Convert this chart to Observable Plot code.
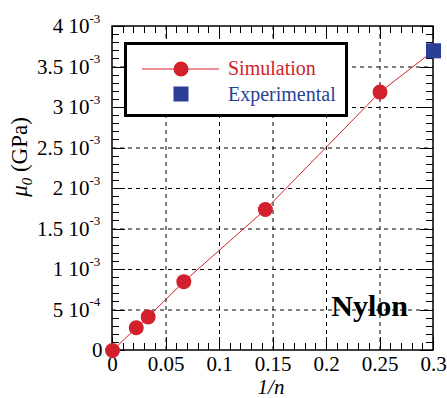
<!DOCTYPE html>
<html>
<head>
<meta charset="utf-8">
<script src="https://cdn.jsdelivr.net/npm/d3@7"></script>
<script src="https://cdn.jsdelivr.net/npm/@observablehq/plot@0.6"></script>
<style>
  body { margin: 0; background: #fff; }
  #chart svg { display: block; }
</style>
</head>
<body>
<div id="chart"></div>
<script>
// Shear modulus mu0 of nylon versus 1/n: simulation series and one experimental value
const invN = [0, 1 / 45, 1 / 30, 1 / 15, 1 / 7, 1 / 4, 0.3];
const mu0Sim = [0, 2.8e-4, 4.15e-4, 8.5e-4, 1.74e-3, 3.19e-3, 3.7e-3];
const invNExp = [0.3];
const mu0Exp = [3.7e-3];

// Axis ticks and their labels
const xMajor = [0, 0.05, 0.1, 0.15, 0.2, 0.25, 0.3];
const xLabels = ["0", "0.05", "0.1", "0.15", "0.2", "0.25", "0.3"];
const yMajor = [0, 5e-4, 1e-3, 1.5e-3, 2e-3, 2.5e-3, 3e-3, 3.5e-3, 4e-3];
const yMantissa = ["0", "5", "1", "1.5", "2", "2.5", "3", "3.5", "4"];
const yExponent = ["", "-4", "-3", "-3", "-3", "-3", "-3", "-3", "-3"];
const xMinor = d3.ticks(0, 0.3, 30);
const yMinor = d3.ticks(0, 4e-3, 40);

const RED = "#d3202d";
const BLUE = "#2b3f98";
const FONT = "'Liberation Serif', 'Times New Roman', serif";
const MAJOR_LEN = 13, MINOR_LEN = 7;

const sim = invN.map((x, i) => ({x, y: mu0Sim[i]}));
const expt = invNExp.map((x, i) => ({x, y: mu0Exp[i]}));
const interior = (arr) => arr.slice(1, -1);
const hasExp = (d) => yExponent[yMajor.indexOf(d)] !== "";
const noExp = (d) => yExponent[yMajor.indexOf(d)] === "";

const chart = Plot.plot({
  width: 447,
  height: 398,
  marginLeft: 112,
  marginRight: 14,
  marginTop: 26,
  marginBottom: 48,
  x: {domain: [0, 0.3], axis: null},
  y: {domain: [0, 4e-3], axis: null},
  style: {fontFamily: FONT, fontSize: "21px", background: "white", color: "black", overflow: "visible"},
  marks: [
    // dashed grid at the major ticks
    Plot.gridX(interior(xMajor), {stroke: "black", strokeOpacity: 1, strokeWidth: 1, strokeDasharray: "4,4"}),
    Plot.gridY(interior(yMajor), {stroke: "black", strokeOpacity: 1, strokeWidth: 1, strokeDasharray: "4,4"}),
    // x tick labels
    Plot.axisX(xMajor, {
      anchor: "bottom", tickSize: 0, tickPadding: 6, fontSize: 21, label: null,
      tickFormat: (d) => xLabels[xMajor.indexOf(d)]
    }),
    // y tick labels: mantissa, "10" and a raised exponent
    Plot.text(yMajor, {
      filter: hasExp, y: (d) => d, frameAnchor: "left", dx: -23, textAnchor: "end", fontSize: 21,
      text: (d) => `${yMantissa[yMajor.indexOf(d)]} 10`
    }),
    Plot.text(yMajor, {
      filter: hasExp, y: (d) => d, frameAnchor: "left", dx: -23, dy: -8, textAnchor: "start", fontSize: 13,
      text: (d) => yExponent[yMajor.indexOf(d)]
    }),
    Plot.text(yMajor, {
      filter: noExp, y: (d) => d, frameAnchor: "left", dx: -10, textAnchor: "end", fontSize: 21,
      text: (d) => yMantissa[yMajor.indexOf(d)]
    }),
    // data
    Plot.line(sim, {x: "x", y: "y", stroke: RED, strokeWidth: 1}),
    Plot.dot(sim, {x: "x", y: "y", r: 7.5, fill: RED, stroke: "none"}),
    Plot.dot(expt, {x: "x", y: "y", symbol: "square", r: 8.5, fill: BLUE, stroke: "none"})
  ]
});

const svg = d3.select(chart);
const xScale = chart.scale("x");
const yScale = chart.scale("y");
const [frameL, frameR] = xScale.range;
const [frameB, frameT] = yScale.range;

// frame and inward ticks on all four sides, placed beneath the data marks
const axesG = svg.insert("g", 'g[aria-label="line"]')
  .attr("stroke", "black").attr("stroke-opacity", 1).attr("fill", "none");
const seg = (x1, y1, x2, y2) => axesG.append("line")
  .attr("x1", x1).attr("y1", y1).attr("x2", x2).attr("y2", y2).attr("stroke-width", 1);
const snap = (v) => Math.round(v) + 0.5;
for (const [vals, len] of [[xMajor, MAJOR_LEN], [xMinor, MINOR_LEN]]) {
  for (const v of vals) {
    const px = snap(xScale.apply(v));
    seg(px, frameB, px, frameB - len);
    seg(px, frameT, px, frameT + len);
  }
}
for (const [vals, len] of [[yMajor, MAJOR_LEN], [yMinor, MINOR_LEN]]) {
  for (const v of vals) {
    const py = snap(yScale.apply(v));
    seg(frameL, py, frameL + len, py);
    seg(frameR, py, frameR - len, py);
  }
}
axesG.append("rect")
  .attr("x", frameL).attr("y", frameT).attr("width", frameR - frameL).attr("height", frameB - frameT)
  .attr("stroke-width", 1.5);

// axis titles
const yTitle = svg.append("text")
  .attr("transform", "translate(27,157) rotate(-90)")
  .attr("text-anchor", "middle")
  .attr("font-family", FONT)
  .attr("font-size", 23)
  .attr("fill", "black");
yTitle.append("tspan").attr("font-style", "italic").text("μ");
yTitle.append("tspan").attr("font-style", "italic").attr("font-size", 15).attr("dy", 5).text("0");
yTitle.append("tspan").attr("dy", -5).text(" (GPa)");

svg.append("text")
  .attr("x", 271).attr("y", 394)
  .attr("text-anchor", "middle")
  .attr("font-family", FONT)
  .attr("font-size", 21)
  .attr("font-style", "italic")
  .attr("fill", "black")
  .text("1/n");

// material name
svg.append("text")
  .attr("x", 408).attr("y", 316)
  .attr("text-anchor", "end")
  .attr("font-family", FONT)
  .attr("font-size", 30)
  .attr("font-weight", "bold")
  .attr("fill", "black")
  .text("Nylon");

// legend
const lg = svg.append("g").attr("font-family", FONT).attr("font-size", 20).attr("text-anchor", "start");
lg.append("rect").attr("x", 125.5).attr("y", 43.5).attr("width", 221).attr("height", 72)
  .attr("fill", "white").attr("stroke", "black").attr("stroke-width", 3);
lg.append("line").attr("x1", 142).attr("x2", 219).attr("y1", 69).attr("y2", 69)
  .attr("stroke", RED).attr("stroke-width", 1);
lg.append("circle").attr("cx", 181).attr("cy", 69).attr("r", 7.5).attr("fill", RED);
lg.append("rect").attr("x", 173.5).attr("y", 86.5).attr("width", 15).attr("height", 15).attr("fill", BLUE);
lg.append("text").attr("x", 228).attr("y", 75).attr("fill", RED).text("Simulation");
lg.append("text").attr("x", 228).attr("y", 101).attr("fill", BLUE).text("Experimental");

document.getElementById("chart").append(chart);
</script>
</body>
</html>
